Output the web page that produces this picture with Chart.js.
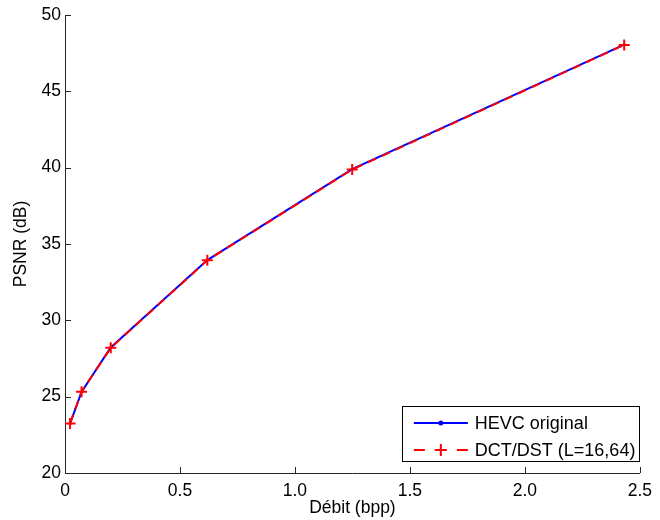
<!DOCTYPE html>
<html>
<head>
<meta charset="utf-8">
<script src="https://cdn.jsdelivr.net/npm/chart.js@4"></script>
<style>
  html, body { margin: 0; padding: 0; background: #fff; }
  #wrap { width: 660px; height: 520px; position: relative; }
</style>
</head>
<body>
<div id="wrap"><canvas id="psnrChart"></canvas></div>
<script>
// Rate (bpp) and PSNR (dB)
const rates = [0.022, 0.072, 0.199, 0.619, 1.249, 2.432];
const psnrHevc = [23.23, 25.31, 28.22, 33.95, 39.90, 48.06];
const psnrDct = [23.25, 25.33, 28.20, 33.93, 39.88, 48.04];
const seriesLabels = ['HEVC original', 'DCT/DST (L=16,64)'];
const xTicks = [0, 0.5, 1, 1.5, 2, 2.5];
const yTicks = [20, 25, 30, 35, 40, 45, 50];

const FONT = '"Liberation Sans", Arial, Helvetica, sans-serif';
Chart.defaults.font.family = FONT;
Chart.defaults.font.size = 17.5;
Chart.defaults.color = '#000';

const toPoints = ys => rates.map((r, i) => ({ x: r, y: ys[i] }));

// ticks drawn inward, like matlab
const innerTicks = {
    id: 'innerTicks',
    afterDraw(chart) {
        const ctx = chart.ctx;
        const area = chart.chartArea;
        const xs = chart.scales.x, ys = chart.scales.y;
        ctx.save();
        ctx.strokeStyle = '#262626';
        ctx.lineWidth = 1;
        ctx.beginPath();
        xTicks.forEach(v => {
            const px = Math.round(xs.getPixelForValue(v)) + 0.5;
            ctx.moveTo(px, area.bottom);
            ctx.lineTo(px, area.bottom - 6);
        });
        yTicks.forEach(v => {
            const py = Math.round(ys.getPixelForValue(v)) + 0.5;
            ctx.moveTo(area.left, py);
            ctx.lineTo(area.left + 6, py);
        });
        ctx.stroke();
        ctx.restore();
    }
};

// legend box in the lower right corner of the axes
const boxLegend = {
    id: 'boxLegend',
    afterDraw(chart) {
        const ctx = chart.ctx;
        const area = chart.chartArea;
        const w = 237, h = 55;
        const x0 = area.right - w - 1, y0 = area.bottom - 12 - h;
        ctx.save();
        ctx.fillStyle = '#fff';
        ctx.fillRect(x0, y0, w, h);
        ctx.strokeStyle = '#000';
        ctx.lineWidth = 1;
        ctx.strokeRect(Math.round(x0) + 0.5, Math.round(y0) + 0.5, w, h);
        ctx.font = '18px ' + FONT;
        ctx.textBaseline = 'middle';
        chart.data.datasets.forEach((ds, i) => {
            const cy = y0 + 17 + i * 27;
            const lx0 = x0 + 12, lx1 = x0 + 66;
            ctx.strokeStyle = ds.borderColor;
            ctx.lineWidth = ds.borderWidth;
            ctx.setLineDash(ds.borderDash ? [11, 32] : []);
            ctx.beginPath();
            ctx.moveTo(lx0, cy);
            ctx.lineTo(lx1, cy);
            ctx.stroke();
            ctx.setLineDash([]);
            const mx = (lx0 + lx1) / 2;
            if (ds.pointStyle === 'cross') {
                ctx.lineWidth = 2;
                ctx.beginPath();
                ctx.moveTo(mx - 6, cy); ctx.lineTo(mx + 6, cy);
                ctx.moveTo(mx, cy - 6); ctx.lineTo(mx, cy + 6);
                ctx.stroke();
            } else {
                ctx.fillStyle = ds.borderColor;
                ctx.beginPath();
                ctx.arc(mx, cy, 2.5, 0, Math.PI * 2);
                ctx.fill();
            }
            ctx.fillStyle = '#000';
            ctx.fillText(ds.label, x0 + 73, cy + 1);
        });
        ctx.restore();
    }
};

new Chart(document.getElementById('psnrChart'), {
    type: 'line',
    data: {
        datasets: [{
            label: seriesLabels[0],
            data: toPoints(psnrHevc),
            borderColor: '#0000ff',
            backgroundColor: '#0000ff',
            borderWidth: 2,
            pointStyle: 'circle',
            pointRadius: 1.5,
            pointBorderWidth: 0,
            tension: 0,
            fill: false,
            order: 1
        }, {
            label: seriesLabels[1],
            data: toPoints(psnrDct),
            borderColor: '#ff0000',
            backgroundColor: '#ff0000',
            borderWidth: 2,
            borderDash: [9, 6],
            pointStyle: 'cross',
            pointRadius: 5.5,
            pointBorderWidth: 2,
            tension: 0,
            fill: false,
            order: 0
        }]
    },
    options: {
        responsive: true,
        maintainAspectRatio: false,
        animation: false,
        layout: { padding: { left: 0, right: 15, top: 15, bottom: 0 } },
        plugins: {
            legend: { display: false },
            tooltip: { enabled: false }
        },
        scales: {
            x: {
                type: 'linear',
                min: 0,
                max: 2.5,
                afterBuildTicks: s => { s.ticks = xTicks.map(v => ({ value: v })); },
                afterFit: s => { s.height = 47; },
                grid: { display: false, drawTicks: false },
                border: { display: true, color: '#262626', width: 1 },
                ticks: { padding: 8, color: '#000' },
                title: {
                    display: true,
                    text: 'Débit (bpp)',
                    color: '#000',
                    padding: { top: 0, bottom: 1 }
                }
            },
            y: {
                type: 'linear',
                min: 20,
                max: 50,
                afterBuildTicks: s => { s.ticks = yTicks.map(v => ({ value: v })); },
                afterFit: s => { s.width = 65; },
                grid: { display: false, drawTicks: false },
                border: { display: true, color: '#262626', width: 1 },
                ticks: { padding: 4, color: '#000' },
                title: {
                    display: true,
                    text: 'PSNR (dB)',
                    color: '#000',
                    padding: { top: 11, bottom: 0 }
                }
            }
        }
    },
    plugins: [innerTicks, boxLegend]
});
</script>
</body>
</html>
